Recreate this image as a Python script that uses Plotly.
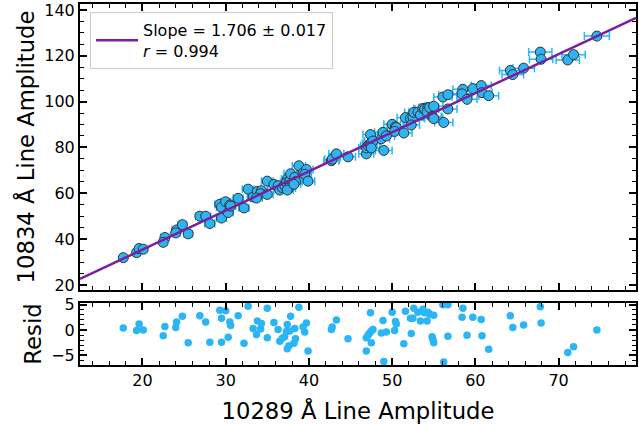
import plotly.graph_objects as go

# ---- data ----
x_amp = [17.7, 19.3, 19.6, 20.1, 22.7, 22.5, 24.1, 24.0, 24.8, 25.5,
         26.9, 27.6, 28.1, 29.3, 29.5, 29.5, 30.0, 30.3, 30.5, 30.6,
         31.5, 32.2, 32.7, 33.3, 33.8, 34.3, 34.2, 33.7, 35.0, 35.0,
         35.8, 36.3, 36.5, 36.8, 37.1, 37.4, 37.3, 37.7, 37.8, 37.6,
         37.4, 38.3, 38.4, 38.2, 38.8, 39.3, 39.7, 39.5, 39.9, 42.7,
         42.8, 43.3, 44.7, 47.4, 46.9, 46.9, 47.1, 47.3, 47.5, 47.7,
         47.5, 48.7, 48.9, 49.3, 49.0, 50.0, 50.4, 50.5, 50.3, 51.4,
         51.6, 52.2, 52.5, 52.3, 52.6, 53.1, 53.4, 53.7, 53.9, 54.3,
         54.2, 54.5, 54.8, 54.9, 55.0, 55.0, 56.1, 56.7, 56.2, 56.7,
         58.5, 58.4, 59.0, 59.7, 60.7, 60.8, 61.6, 64.2, 64.5, 65.8,
         67.8, 67.9, 71.1, 71.8, 74.6]
y_amp = [31.9, 34.1, 35.9, 35.6, 40.7, 38.6, 44.0, 42.7, 46.3, 42.3,
         50.0, 50.0, 46.8, 55.2, 53.9, 49.2, 56.3, 51.6, 54.9, 54.4,
         57.8, 53.6, 61.8, 58.4, 60.8, 61.1, 59.8, 57.9, 65.3, 59.5,
         63.9, 63.3, 61.4, 62.5, 63.3, 66.2, 64.6, 65.4, 68.5, 62.3,
         61.4, 66.9, 65.1, 63.9, 72.0, 68.9, 70.4, 68.3, 65.3, 74.2,
         74.9, 77.2, 75.9, 85.6, 77.2, 79.8, 80.7, 81.4, 82.1, 82.8,
         79.8, 83.8, 86.6, 85.0, 78.7, 90.1, 89.0, 88.7, 87.0, 86.3,
         93.0, 92.7, 93.2, 89.8, 95.3, 95.4, 94.2, 97.0, 96.7, 97.4,
         95.6, 97.4, 93.5, 93.2, 92.6, 98.0, 102.0, 103.0, 90.9, 96.8,
         105.4, 103.4, 101.0, 105.7, 107.0, 103.9, 102.6, 113.6, 111.8, 114.6,
         121.6, 118.5, 118.2, 120.5, 128.6]
x_err = [0.4, 0.4, 0.4, 0.4, 0.5, 0.4, 0.5, 0.5, 0.5, 0.5,
         0.5, 0.6, 0.6, 0.6, 0.6, 0.6, 0.6, 0.6, 0.6, 0.6,
         0.6, 0.6, 0.7, 0.7, 0.7, 0.7, 0.7, 0.7, 0.7, 0.7,
         0.7, 0.7, 0.7, 0.7, 0.7, 0.7, 0.7, 0.8, 0.8, 0.8,
         0.7, 0.8, 0.8, 0.8, 0.8, 0.8, 0.8, 0.8, 0.8, 0.9,
         0.9, 0.9, 0.9, 0.9, 0.9, 0.9, 0.9, 0.9, 1.0, 1.0,
         1.0, 1.0, 1.0, 1.0, 1.0, 1.0, 1.0, 1.0, 1.0, 1.0,
         1.0, 1.0, 1.1, 1.0, 1.1, 1.1, 1.1, 1.1, 1.1, 1.1,
         1.1, 1.1, 1.1, 1.1, 1.1, 1.1, 1.1, 1.1, 1.1, 1.1,
         1.2, 1.2, 1.2, 1.2, 1.2, 1.2, 1.2, 1.3, 1.3, 1.3,
         1.4, 1.4, 1.4, 1.4, 1.5]
resid = [0.4, -0.1, 1.2, 0.0, 0.7, -1.1, 1.6, 0.5, 2.7, -2.5,
         2.8, 1.6, -2.4, 3.9, 2.3, -2.4, 3.8, -1.4, 1.6, 0.9,
         2.8, -2.6, 4.7, 0.3, 1.8, 1.3, 0.2, -0.9, 4.3, -1.5,
         1.5, 0.1, -2.2, -1.6, -1.3, 1.1, -0.3, -0.2, 2.7, -3.1,
         -3.7, 0.3, -1.7, -2.6, 4.5, 0.6, 1.4, -0.4, -4.1, 0.1,
         0.6, 2.0, -1.7, 3.4, -4.1, -1.5, -1.0, -0.6, -0.2, 0.1,
         -2.5, -0.6, 1.9, -0.4, -6.2, 3.5, 1.7, 1.2, -0.1, -2.7,
         3.7, 2.3, 2.3, -0.7, 4.3, 3.5, 1.8, 4.1, 3.4, 3.5,
         1.8, 3.1, -1.3, -1.8, -2.5, 2.9, 5.0, 5.0, -6.3, -1.2,
         4.3, 2.5, -1.0, 2.5, 2.1, -1.1, -3.8, 2.8, 0.5, 1.0,
         4.6, 1.4, -4.4, -3.3, 0.0]
slope = 1.706
slope_err = 0.017
intercept = 1.3
r_coef = 0.994
x_range = [12.5, 79.3]

# ---- styles ----
BLUE = "#2BB5F5"
PURPLE = "#7B1FA2"
FONT = "DejaVu Sans"

fig = go.Figure()

line_x = x_range
line_y = [slope * v + intercept for v in line_x]

fig.add_trace(go.Scatter(
    x=x_amp, y=y_amp, mode="markers",
    error_x=dict(type="data", array=x_err, visible=True, color=BLUE,
                 thickness=1.5, width=4),
    marker=dict(color=BLUE, size=10, line=dict(color="#333333", width=1)),
    showlegend=False, xaxis="x", yaxis="y"))

fig.add_trace(go.Scatter(
    x=line_x, y=line_y, mode="lines",
    line=dict(color=PURPLE, width=2.5),
    name=f"Slope = {slope:.3f} ± {slope_err:.3f}<br><i>r</i> = {r_coef:.3f}",
    showlegend=True, xaxis="x", yaxis="y"))

fig.add_trace(go.Scatter(
    x=x_amp, y=resid, mode="markers",
    marker=dict(color=BLUE, size=7.5),
    showlegend=False, xaxis="x2", yaxis="y2"))

axis_common = dict(
    showline=True, linecolor="black", linewidth=2, mirror="allticks",
    ticks="inside", ticklen=7, tickwidth=1.5, tickcolor="black",
    showgrid=False, zeroline=False, automargin=False,
    ticklabeloverflow="allow",
    tickfont=dict(family=FONT, size=16, color="black"),
)
TITLE_FONT = dict(family=FONT, size=22.7, color="black")
MINOR = dict(ticks="inside", ticklen=4, tickcolor="black", tickwidth=1)

fig.update_layout(
    width=639, height=424,
    margin=dict(l=80, r=3, t=4, b=59, autoexpand=False),
    paper_bgcolor="white", plot_bgcolor="white",
    font=dict(family=FONT, color="black"),
    xaxis=dict(**axis_common, range=x_range, domain=[0, 1], anchor="y",
               showticklabels=False, dtick=10, tick0=0,
               minor=dict(**MINOR, dtick=2)),
    yaxis=dict(**axis_common, range=[17.8, 142.6], domain=[0.2078, 1], anchor="x",
               dtick=20, tick0=0,
               minor=dict(**MINOR, dtick=5),
               title=dict(text="10834 Å Line Amplitude", font=TITLE_FONT, standoff=3)),
    xaxis2=dict(**axis_common, range=x_range, domain=[0, 1], anchor="y2", matches="x",
                dtick=10, tick0=0,
                minor=dict(**MINOR, dtick=2),
                title=dict(text="10289 Å Line Amplitude", font=TITLE_FONT)),
    yaxis2=dict(**axis_common, range=[-6.88, 5.32], domain=[0, 0.1717], anchor="x2",
                dtick=5, tick0=0,
                minor=dict(**MINOR, dtick=1),
                title=dict(text="Resid", font=TITLE_FONT, standoff=3)),
    legend=dict(x=0.018, y=0.978, xanchor="left", yanchor="top",
                bgcolor="white", bordercolor="#cccccc", borderwidth=1,
                font=dict(family=FONT, size=16, color="black"),
                itemwidth=42, valign="middle"),
)

fig.write_html("out.html",
               config={"displayModeBar": False},
               post_script="document.body.style.margin='0';document.body.style.overflow='hidden';")
